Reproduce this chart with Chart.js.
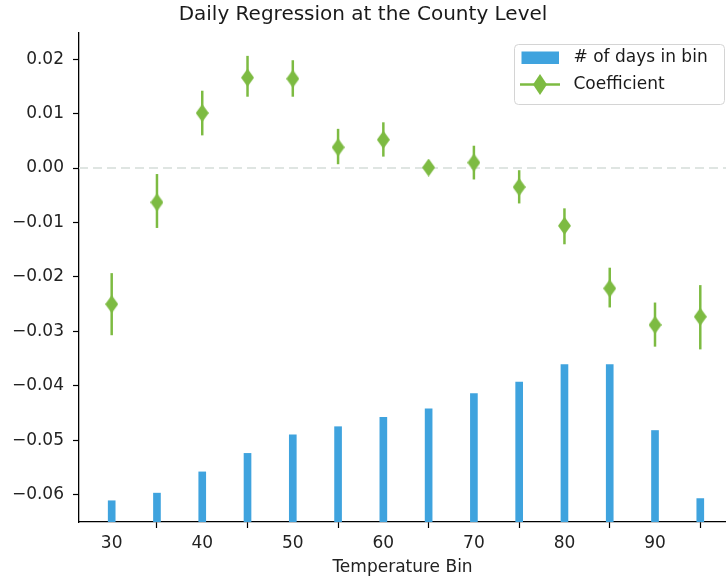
<!DOCTYPE html>
<html>
<head>
<meta charset="utf-8">
<script src="https://cdn.jsdelivr.net/npm/chart.js@4/dist/chart.umd.min.js"></script>
<style>
    html, body { margin: 0; padding: 0; background: #fff; overflow: hidden; }
    #chart { display: block; }
</style>
</head>
<body>
<canvas id="chart" width="726" height="583"></canvas>
<script>
// Data
const tempBins = [30, 35, 40, 45, 50, 55, 60, 65, 70, 75, 80, 85, 90, 95];
const coefficients = [-0.0250, -0.0063, 0.0101, 0.0166, 0.0164, 0.0038, 0.0052, 0.0001, 0.0010, -0.0035, -0.0106, -0.0221, -0.0288, -0.0273];
const ciUpper = [-0.0193, -0.0011, 0.0142, 0.0206, 0.0198, 0.0072, 0.0084, 0.0004, 0.0041, -0.0004, -0.0074, -0.0183, -0.0247, -0.0215];
const ciLower = [-0.0307, -0.0110, 0.0060, 0.0131, 0.0131, 0.0007, 0.0021, -0.0004, -0.0021, -0.0065, -0.0140, -0.0256, -0.0328, -0.0333];
// bar heights, already scaled onto the coefficient axis
const daysInBin = [-0.0611, -0.0597, -0.0558, -0.0524, -0.0490, -0.0475, -0.0458, -0.0442, -0.0414, -0.0393, -0.0361, -0.0361, -0.0482, -0.0607];
const xTicks = [30, 40, 50, 60, 70, 80, 90];
const yTicks = [-0.06, -0.05, -0.04, -0.03, -0.02, -0.01, 0.00, 0.01, 0.02];
const xRange = [26.39, 97.84];
const yRange = [-0.065, 0.0248];
const zeroLine = 0;
const seriesLabels = ['# of days in bin', 'Coefficient'];

const BLUE = '#3fa3de';
const GREEN = '#7dbb42';
const FONT = "'DejaVu Sans', sans-serif";

// thin diamond marker
function makeDiamond(w, h) {
    const c = document.createElement('canvas');
    c.width = w;
    c.height = h;
    const g = c.getContext('2d');
    g.fillStyle = GREEN;
    g.beginPath();
    g.moveTo(w / 2, 0);
    g.lineTo(w, h / 2);
    g.lineTo(w / 2, h);
    g.lineTo(0, h / 2);
    g.closePath();
    g.fill();
    return c;
}
const diamond = makeDiamond(13, 18);

// zero line + error bars under the markers
const errorBarPlugin = {
    id: 'errorBars',
    beforeDatasetsDraw(chart) {
        const { ctx, chartArea, scales } = chart;
        const y0 = scales.y.getPixelForValue(zeroLine);
        ctx.save();
        ctx.strokeStyle = '#dfe5e2';
        ctx.lineWidth = 2;
        ctx.setLineDash([9, 5]);
        ctx.beginPath();
        ctx.moveTo(chartArea.left, y0);
        ctx.lineTo(chartArea.right, y0);
        ctx.stroke();
        ctx.setLineDash([]);

        ctx.strokeStyle = GREEN;
        ctx.lineWidth = 2.5;
        tempBins.forEach((t, i) => {
            const x = scales.x.getPixelForValue(t);
            ctx.beginPath();
            ctx.moveTo(x, scales.y.getPixelForValue(ciUpper[i]));
            ctx.lineTo(x, scales.y.getPixelForValue(ciLower[i]));
            ctx.stroke();
        });
        ctx.restore();
    }
};

// legend box inside the plot, top right
const boxLegendPlugin = {
    id: 'boxLegend',
    afterDraw(chart) {
        const { ctx } = chart;
        const left = 514.5, top = 44.5, w = 210, h = 60;
        ctx.save();
        ctx.fillStyle = 'rgba(255,255,255,0.8)';
        ctx.strokeStyle = '#d4d4d4';
        ctx.lineWidth = 1;
        ctx.beginPath();
        ctx.roundRect(left, top, w, h, 4);
        ctx.fill();
        ctx.stroke();

        ctx.fillStyle = BLUE;
        ctx.fillRect(521.5, 51.5, 37.5, 12.5);

        ctx.strokeStyle = GREEN;
        ctx.lineWidth = 2.5;
        ctx.beginPath();
        ctx.moveTo(520, 84.5);
        ctx.lineTo(560, 84.5);
        ctx.stroke();
        const d = makeDiamond(14, 21);
        ctx.drawImage(d, 540 - 7, 84.5 - 10.5);

        ctx.fillStyle = '#1a1a1a';
        ctx.font = '17px ' + FONT;
        ctx.textBaseline = 'middle';
        ctx.textAlign = 'left';
        ctx.fillText(seriesLabels[0], 573.5, 58);
        ctx.fillText(seriesLabels[1], 573.5, 85);
        ctx.restore();
    }
};

function fmtTick(v) {
    const s = Math.abs(v).toFixed(2);
    return (v < -1e-9 ? '\u2212' : '') + s;
}

const ctx = document.getElementById('chart').getContext('2d');
new Chart(ctx, {
    type: 'bar',
    data: {
        datasets: [
            {
                label: seriesLabels[0],
                data: tempBins.map((t, i) => ({ x: t, y: daysInBin[i] })),
                base: yRange[0],
                backgroundColor: BLUE,
                borderWidth: 0,
                barThickness: 7,
                order: 2
            },
            {
                type: 'line',
                label: seriesLabels[1],
                data: tempBins.map((t, i) => ({ x: t, y: coefficients[i] })),
                showLine: false,
                pointStyle: diamond,
                pointRadius: 9,
                borderColor: GREEN,
                backgroundColor: GREEN,
                order: 1
            }
        ]
    },
    options: {
        responsive: false,
        animation: false,
        devicePixelRatio: 1,
        layout: { autoPadding: false, padding: { left: 0, right: 0, top: 0, bottom: 0 } },
        plugins: {
            legend: { display: false },
            tooltip: { enabled: false },
            title: {
                display: true,
                text: 'Daily Regression at the County Level',
                color: '#1a1a1a',
                font: { family: FONT, size: 20, weight: 'normal', lineHeight: 1.2 },
                padding: { top: 3, bottom: 6 }
            }
        },
        scales: {
            x: {
                type: 'linear',
                min: xRange[0],
                max: xRange[1],
                offset: false,
                afterBuildTicks: axis => { axis.ticks = xTicks.map(v => ({ value: v })); },
                afterFit: axis => {
                    axis.height = 61;
                    axis.paddingLeft = 0;
                    axis.paddingRight = 0;
                },
                grid: { display: true, drawOnChartArea: false, drawTicks: true, tickLength: 6, color: '#000', tickWidth: 1.2 },
                border: { display: true, color: '#000', width: 1.3 },
                ticks: {
                    color: '#222',
                    font: { family: FONT, size: 17 },
                    padding: 5,
                    maxRotation: 0,
                    callback: v => String(v)
                },
                title: {
                    display: true,
                    text: 'Temperature Bin',
                    color: '#222',
                    font: { family: FONT, size: 17, lineHeight: 1.2 },
                    padding: { top: 0, bottom: 5 }
                }
            },
            y: {
                type: 'linear',
                min: yRange[0],
                max: yRange[1],
                afterBuildTicks: axis => { axis.ticks = yTicks.map(v => ({ value: v })); },
                afterFit: axis => {
                    axis.width = 79;
                    axis.paddingTop = 0;
                    axis.paddingBottom = 0;
                },
                grid: { display: true, drawOnChartArea: false, drawTicks: true, tickLength: 6, color: '#000', tickWidth: 1.2 },
                border: { display: true, color: '#000', width: 1.3 },
                ticks: {
                    color: '#222',
                    font: { family: FONT, size: 17 },
                    padding: 9,
                    callback: v => fmtTick(v)
                }
            }
        }
    },
    plugins: [errorBarPlugin, boxLegendPlugin]
});
</script>
</body>
</html>
